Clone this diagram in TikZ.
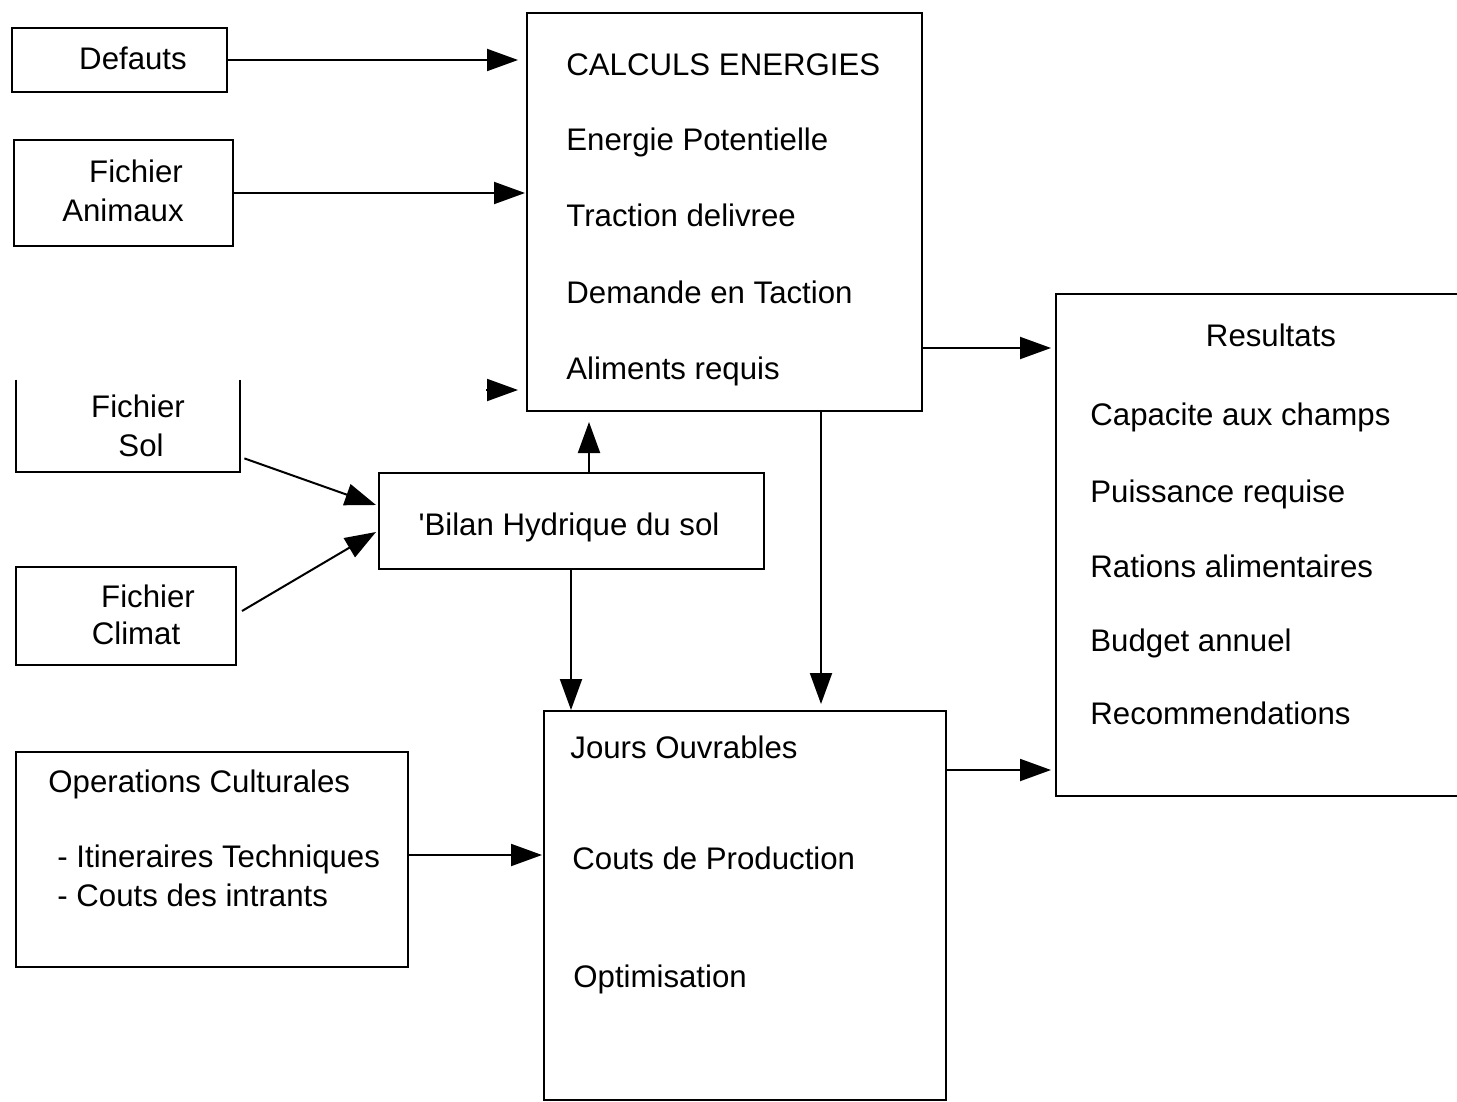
\documentclass[tikz,border=0pt]{standalone}
\usepackage{fontspec}
\setmainfont{Liberation Sans}
\usetikzlibrary{arrows.meta,fit,calc}
\begin{document}
\begin{tikzpicture}[x=0.5pt,y=-0.5pt,
  box/.style={draw,line width=1pt,inner sep=0pt},
  openbox/.style={inner sep=0pt},
  lbl/.style={inner sep=0pt,font=\fontsize{15.6pt}{19pt}\selectfont},
  lw/.style={lbl,anchor=base west},
  lc/.style={lbl,anchor=base},
  arr/.style={line width=1pt,-{Triangle[length=15.5pt,width=11pt]}}]
\useasboundingbox[fill=white] (0,0) rectangle (1457,1102);

% boxes
\node[box,fit={(12,28)(227,92)}] (def) {};
\node[box,fit={(14,140)(233,246)}] (ani) {};
\node[openbox,fit={(16,380)(240,472)}] (sol) {};
\draw[line width=1pt] (sol.north west) -- (sol.south west) -- (sol.south east) -- (sol.north east);
\node[box,fit={(16,567)(236,665)}] (cli) {};
\node[box,fit={(16,752)(408,967)}] (ops) {};
\node[box,fit={(527,13)(922,411)}] (calc) {};
\node[box,fit={(379,473)(764,569)}] (bil) {};
\node[box,fit={(544,711)(946,1100)}] (prod) {};
\node[box,fit={(1056,294)(1475,796)}] (res) {};

% texts
\node[lc] (tdef) at (133,70) {Defauts};
\node[lc] (tani1) at (136,183) {Fichier};
\node[lc] (tani2) at (123,221) {Animaux};
\node[lc] (tsol1) at (138,417) {Fichier};
\node[lc] (tsol2) at (141,456) {Sol};
\node[lc] (tcli1) at (148,607) {Fichier};
\node[lc] (tcli2) at (136,644) {Climat};
\node[lw] (tops1) at (48,792) {Operations Culturales};
\node[lw] (tops2) at (57,867) {- Itineraires Techniques};
\node[lw] (tops3) at (57,906) {- Couts des intrants};
\node[lw] (tc1) at (566,76) {CALCULS ENERGIES};
\node[lw] (tc2) at (566,151) {Energie Potentielle};
\node[lw] (tc3) at (566,227) {Traction delivree};
\node[lw] (tc4) at (566,303) {Demande en Taction};
\node[lw] (tc5) at (566,379) {Aliments requis};
\node[lc] (tbil) at (569,535) {\textquotesingle Bilan Hydrique du sol};
\node[lw] (tp1) at (570,758) {Jours Ouvrables};
\node[lw] (tp2) at (572,869) {Couts de Production};
\node[lw] (tp3) at (573,987) {Optimisation};
\node[lc] (tr0) at (1271,346) {Resultats};
\node[lw] (tr1) at (1090,425) {Capacite aux champs};
\node[lw] (tr2) at (1090,502) {Puissance requise};
\node[lw] (tr3) at (1090,577) {Rations alimentaires};
\node[lw] (tr4) at (1090,651) {Budget annuel};
\node[lw] (tr5) at (1090,724) {Recommendations};

% connectors
\draw[arr,shorten >=4pt] (def.east) -- (calc.west |- def.east);
\draw[arr,shorten >=0.5pt] (ani.east) -- (calc.west |- ani.east);
\coordinate (lone) at (486,390);
\draw[arr,shorten >=4pt] (lone) -- (calc.west |- lone);
\draw[arr] ($(sol.south east)+(4,-14)$) -- ($(bil.west)+(-2,-16)$);
\draw[arr] ($(cli.east)+(5,-5)$) -- ($(bil.west)+(-2,11)$);
\coordinate (bup) at ($(bil.north west)+(211,0)$);
\draw[arr,shorten >=5pt] (bup) -- (calc.south -| bup);
\coordinate (bdn) at ($(bil.south west)+(193,0)$);
\draw[arr] (bdn) -- (prod.north -| bdn);
\coordinate (cdn) at ($(calc.south west)+(295,0)$);
\draw[arr,shorten >=3pt] (cdn) -- (prod.north -| cdn);
\coordinate (cr) at (922,348);
\draw[arr,shorten >=2pt] (cr) -- (res.west |- cr);
\coordinate (pr) at (946,770);
\draw[arr,shorten >=2pt] (pr) -- (res.west |- pr);
\coordinate (orr) at (408,855);
\draw[arr,shorten >=0.5pt] (orr) -- (prod.west |- orr);
\end{tikzpicture}
\end{document}
